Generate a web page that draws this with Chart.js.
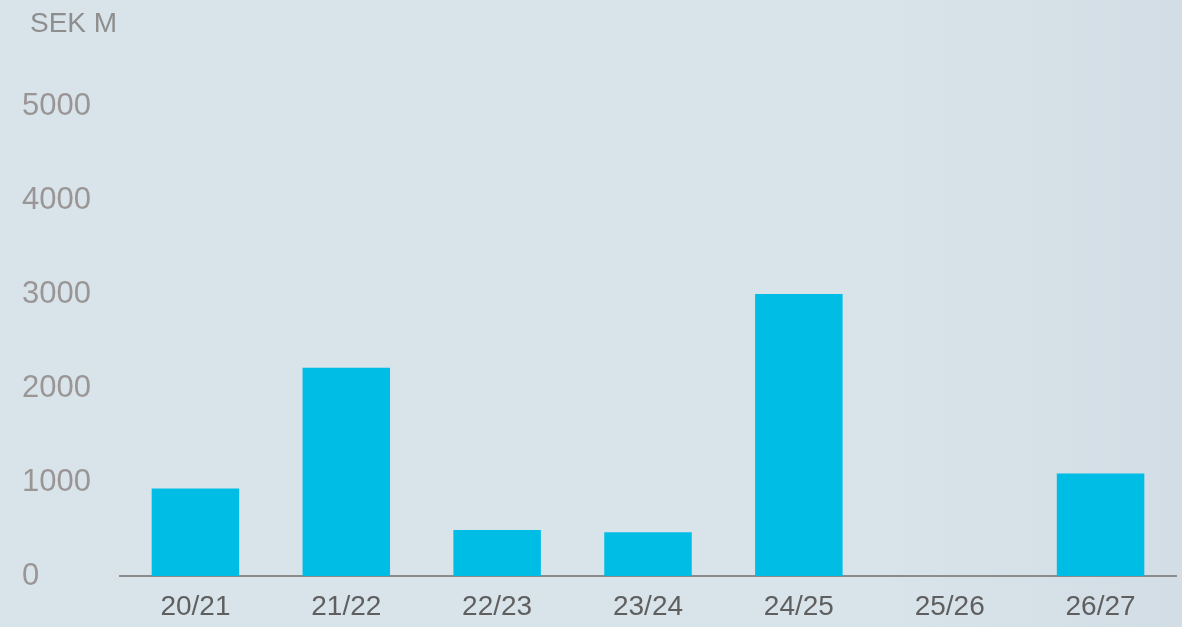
<!DOCTYPE html>
<html>
<head>
<meta charset="utf-8">
<script src="https://cdn.jsdelivr.net/npm/chart.js@4"></script>
<style>
    html, body { margin: 0; padding: 0; }
    body {
        width: 1182px;
        height: 627px;
        background: linear-gradient(90deg, #d8e3ea 0%, #d8e3ea 75%, #d2dde5 100%);
        position: relative;
        overflow: hidden;
        font-family: "Liberation Sans", Arial, sans-serif;
    }
    #unit {
        position: absolute;
        left: 30px;
        top: 7px;
        font-size: 28px;
        color: #8e8e8e;
    }
    #wrap { position: absolute; left: 0; top: 0; width: 1182px; height: 627px; }
</style>
</head>
<body>
<div id="wrap"><canvas id="chart"></canvas></div>
<div id="unit">SEK M</div>
<script>
const years = ["20/21", "21/22", "22/23", "23/24", "24/25", "25/26", "26/27"];
const amounts = [930, 2215, 490, 465, 3000, 0, 1090];
const yTicks = [0, 1000, 2000, 3000, 4000, 5000];

document.addEventListener("DOMContentLoaded", () => {
    const ctx = document.getElementById("chart").getContext("2d");
    new Chart(ctx, {
        type: 'bar',
        data: {
            labels: years,
            datasets: [{
                data: amounts,
                backgroundColor: '#00bde5',
                borderWidth: 0,
                barPercentage: 0.58,
                categoryPercentage: 1.0
            }]
        },
        options: {
            responsive: true,
            maintainAspectRatio: false,
            animation: false,
            layout: {
                padding: { left: 22, right: 6, top: 106, bottom: 0 }
            },
            plugins: {
                legend: { display: false },
                tooltip: { enabled: false }
            },
            scales: {
                x: {
                    grid: { display: false, drawTicks: false },
                    border: { display: true, color: '#8c8c8c', width: 2 },
                    afterFit: scale => { scale.height = 51; },
                    ticks: {
                        color: '#5f5f5f',
                        padding: 14,
                        font: { family: 'Liberation Sans', size: 28 }
                    }
                },
                y: {
                    min: 0,
                    max: 5000,
                    grid: { display: false, drawTicks: false },
                    border: { display: false },
                    afterBuildTicks: scale => {
                        scale.ticks = yTicks.map(v => ({ value: v }));
                    },
                    afterFit: scale => { scale.width = 98; },
                    ticks: {
                        color: '#9b9696',
                        crossAlign: 'far',
                        callback: v => String(v),
                        font: { family: 'Liberation Sans', size: 31 }
                    }
                }
            }
        }
    });
});
</script>
</body>
</html>
